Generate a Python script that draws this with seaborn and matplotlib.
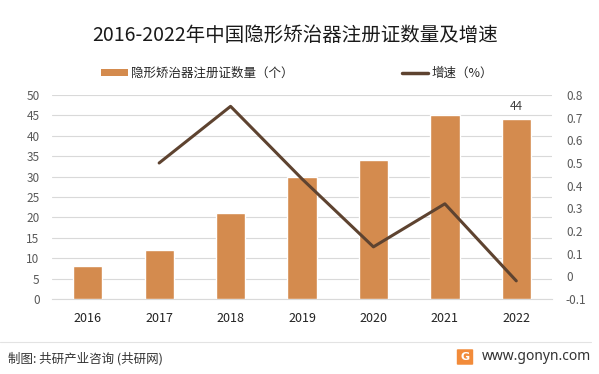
import matplotlib
matplotlib.use("Agg")
import matplotlib.pyplot as plt
import seaborn as sns
import pandas as pd
from matplotlib.patches import Patch, FancyBboxPatch
from matplotlib.lines import Line2D

# chart data
years = ["2016", "2017", "2018", "2019", "2020", "2021", "2022"]
counts = [8, 12, 21, 30, 34, 45, 44]
growth_years = ["2017", "2018", "2019", "2020", "2021", "2022"]
growth = [0.50, 0.75, 0.43, 0.13, 0.32, -0.02]
left_ticks = [0, 5, 10, 15, 20, 25, 30, 35, 40, 45, 50]
right_ticks = [-0.1, 0, 0.1, 0.2, 0.3, 0.4, 0.5, 0.6, 0.7, 0.8]

title = "2016-2022年中国隐形矫治器注册证数量及增速"
bar_label = "隐形矫治器注册证数量（个）"
line_label = "增速（%）"

bar_color = "#D48B4E"
line_color = "#5E4330"
tick_color = "#595959"
grid_color = "#D9D9D9"

sns.set_style("white")
plt.rcParams['font.family'] = ['Noto Sans CJK SC', 'DejaVu Sans']

df = pd.DataFrame({"year": years, "count": counts})
gdf = pd.DataFrame({"pos": [years.index(y) for y in growth_years], "growth": growth})

fig = plt.figure(figsize=(5.99, 3.74), dpi=100)
ax = fig.add_axes([52 / 599, 1 - 299 / 374, 500 / 599, 204 / 374])

sns.barplot(data=df, x="year", y="count", color=bar_color, width=0.41,
            saturation=1, ax=ax, zorder=3)
ax.set_xlim(-0.5, len(years) - 0.5)
ax.set_ylim(0, 50)
ax.set_yticks(left_ticks)
ax.yaxis.grid(True, color=grid_color, lw=0.8, zorder=0)
ax.set_axisbelow(True)
ax.set_xlabel("")
ax.set_ylabel("")
ax.tick_params(axis="y", length=0, labelsize=8.5, labelcolor=tick_color, pad=9)
ax.tick_params(axis="x", length=0, labelsize=9, labelcolor="#222222", pad=9)
for s in ["top", "right", "left"]:
    ax.spines[s].set_visible(False)
ax.spines["bottom"].set_color(grid_color)
ax.spines["bottom"].set_linewidth(0.8)

# value label on the last bar
ax.text(len(years) - 1, counts[-1] + 1.5, str(counts[-1]), ha="center", va="bottom",
        fontsize=8.5, color="#404040")

ax2 = ax.twinx()
sns.lineplot(data=gdf, x="pos", y="growth", color=line_color, lw=2.2, ax=ax2, zorder=4)
ax2.set_ylim(-0.1, 0.8)
ax2.set_yticks(right_ticks)
ax2.set_yticklabels([f"{round(v, 1):g}" for v in right_ticks])
ax2.tick_params(axis="y", length=0, labelsize=8.5, labelcolor=tick_color, pad=10)
ax2.set_xlabel("")
ax2.set_ylabel("")
for s in ["top", "right", "left", "bottom"]:
    ax2.spines[s].set_visible(False)

fig.text(0.493, 1 - 35 / 374, title, ha="center", va="center", fontsize=14, color="#1a1a1a")

handles = [Patch(facecolor=bar_color, edgecolor="none"),
           Line2D([0], [0], color=line_color, lw=2.5)]
fig.legend(handles, [bar_label, line_label], ncol=2, loc="center",
           bbox_to_anchor=(0.496, 1 - 73 / 374), frameon=False, fontsize=9,
           handlelength=2.1, handleheight=0.5, handletextpad=0.25, columnspacing=8.7)

# footer
fig.add_artist(Line2D([0, 591 / 599], [1 - 342 / 374] * 2, color="#E3E3E3", lw=0.8))
fig.text(8 / 599, 1 - 359 / 374, "制图: 共研产业咨询 (共研网)", fontsize=9,
         ha="left", va="center", color="#333333")
fig.add_artist(FancyBboxPatch((458 / 599, 1 - 364 / 374), 14 / 599, 14 / 374,
                              boxstyle="round,pad=0.002", fc="#F28B3A", ec="none"))
fig.text(465 / 599, 1 - 357 / 374, "G", fontsize=8, fontweight="bold", color="white",
         ha="center", va="center", family="DejaVu Sans")
fig.text(591 / 599, 1 - 357 / 374, "www.gonyn.com", fontsize=10, ha="right",
         va="center", color="#333333", family="Noto Sans")

fig.savefig("out.png", dpi=100)
